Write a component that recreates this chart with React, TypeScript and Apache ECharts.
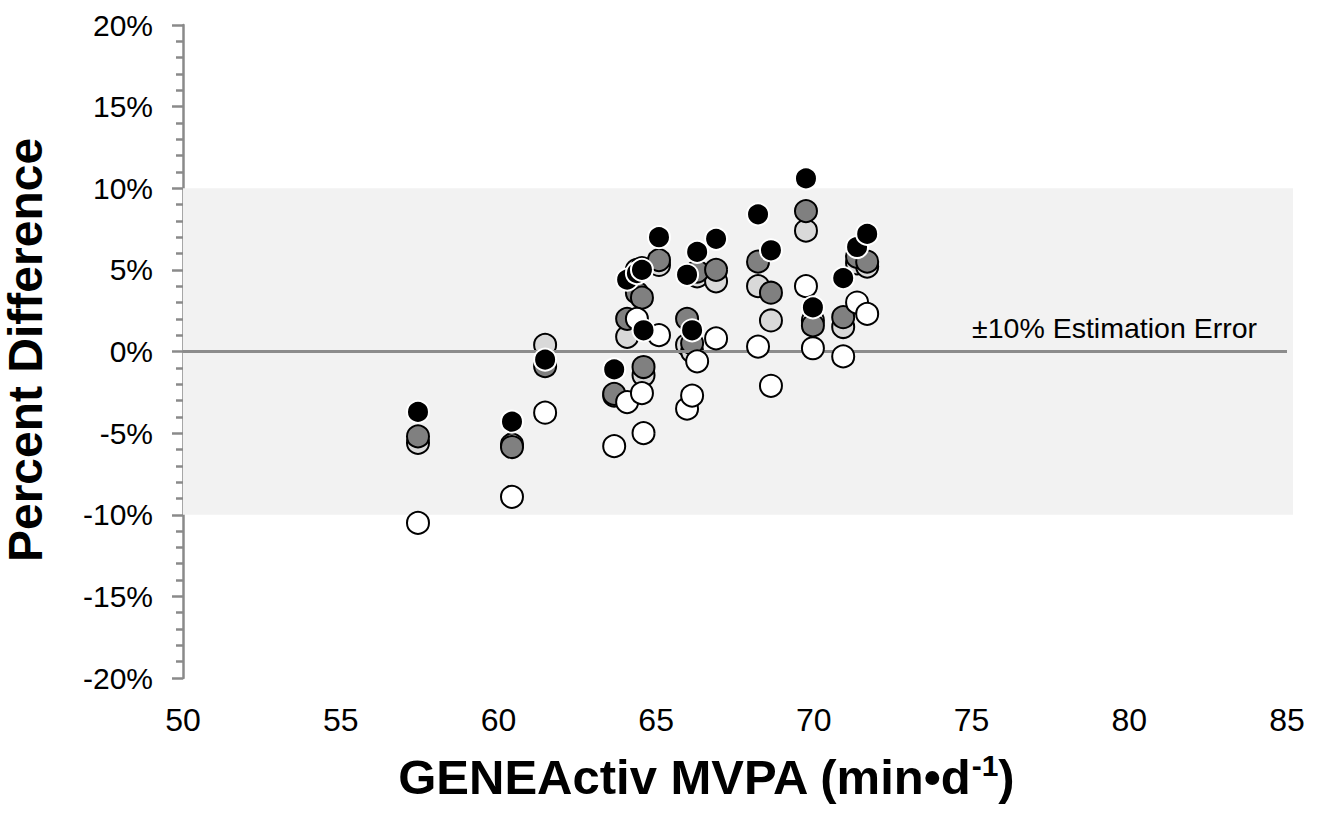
import React, { useEffect, useRef } from "react";
import * as echarts from "echarts";

// GENEActiv MVPA (min·d⁻¹) for each participant
const mvpa = [57.45, 60.43, 61.48, 63.67, 64.08, 64.39, 64.55, 64.6, 65.09, 65.98, 66.14, 66.3, 66.9, 68.23, 68.64, 69.75, 69.97, 70.93, 71.37, 71.69];
// Percent difference, four comparison series
const blackSeries = [-3.7, -4.3, -0.5, -1.1, 4.4, 4.8, 5.0, 1.3, 7.0, 4.7, 1.3, 6.1, 6.9, 8.4, 6.2, 10.6, 2.7, 4.5, 6.4, 7.2];
const darkGreySeries = [-5.2, -5.85, -0.9, -2.6, 2.0, 3.6, 3.3, -0.95, 5.6, 2.0, 0.5, 4.9, 5.0, 5.5, 3.6, 8.6, 1.6, 2.1, 5.8, 5.5];
const lightGreySeries = [-5.6, -5.7, 0.4, -2.7, 0.9, 5.0, 5.1, -1.45, 5.3, 0.4, 0.0, 4.6, 4.3, 4.0, 1.9, 7.4, 1.9, 1.5, 5.4, 5.2];
const whiteSeries = [-10.5, -8.9, -3.75, -5.8, -3.1, 2.0, -2.55, -5.0, 1.0, -3.5, -2.7, -0.6, 0.8, 0.3, -2.1, 4.0, 0.2, -0.3, 3.0, 2.3];

// axis settings
const xMin = 50;
const xLastTick = 85;
const xMax = 85.19;
const yMin = -20;
const yMax = 20;
const bandLow = -10;
const bandHigh = 10;

const FONT = "'Liberation Sans', Arial, sans-serif";

const pair = (ys: number[]) => mvpa.map((x, i) => [x, ys[i]]);

export default function App() {
  const ref = useRef<HTMLDivElement>(null);
  useEffect(() => {
    if (!ref.current) return;
    const chart = echarts.init(ref.current, null, { renderer: "svg" });
    const scatter = (name: string, ys: number[], fill: string, border: string, z: number) => ({
      name,
      type: "scatter",
      data: pair(ys),
      symbol: "circle",
      symbolSize: 22,
      z,
      itemStyle: { color: fill, borderColor: border, borderWidth: 2, opacity: 1 },
    });
    chart.setOption({
      animation: false,
      backgroundColor: "#fff",
      grid: { left: 183, right: 27, top: 25, bottom: 153, containLabel: false },
      xAxis: {
        type: "value",
        min: xMin,
        max: xMax,
        interval: 5,
        axisLine: { show: false },
        axisTick: { show: false },
        splitLine: { show: false },
        axisLabel: { fontSize: 32, color: "#000", fontFamily: FONT, margin: 26, showMaxLabel: false },
      },
      yAxis: {
        type: "value",
        min: yMin,
        max: yMax,
        interval: 5,
        axisLine: { show: true, lineStyle: { color: "#8a8a8a", width: 2.5 } },
        axisTick: { show: true, length: 11, lineStyle: { color: "#8a8a8a", width: 2.5 } },
        minorTick: { show: true, splitNumber: 5, length: 7, lineStyle: { color: "#8a8a8a", width: 2.5 } },
        splitLine: { show: false },
        axisLabel: { fontSize: 30, color: "#000", fontFamily: FONT, margin: 30, formatter: (v: number) => `${v}%` },
      },
      series: [
        {
          name: "band",
          type: "line",
          data: [],
          z: 1,
          markArea: {
            silent: true,
            itemStyle: { color: "#f2f2f2" },
            data: [[{ xAxis: xMin, yAxis: bandLow }, { xAxis: xMax, yAxis: bandHigh }]],
          },
          markLine: {
            silent: true,
            symbol: "none",
            label: { show: false },
            lineStyle: { color: "#8c8c8c", width: 3, type: "solid" },
            data: [[{ xAxis: xMin, yAxis: 0 }, { xAxis: xLastTick, yAxis: 0 }]],
          },
        },
        scatter("Light grey", lightGreySeries, "#d9d9d9", "#000", 3),
        scatter("Dark grey", darkGreySeries, "#808080", "#000", 4),
        scatter("White", whiteSeries, "#ffffff", "#000", 5),
        scatter("Black", blackSeries, "#000000", "#ffffff", 6),
      ],
      graphic: [
        {
          type: "text",
          x: 1257,
          y: 328,
          z: 10,
          style: { text: "±10% Estimation Error", fontSize: 28.5, fontFamily: FONT, fill: "#000", align: "right", verticalAlign: "middle" },
        },
        {
          type: "text",
          x: 25,
          y: 350,
          rotation: Math.PI / 2,
          z: 10,
          style: { text: "Percent Difference", fontSize: 48, fontWeight: "bold", fontFamily: FONT, fill: "#000", align: "center", verticalAlign: "middle" },
        },
        {
          type: "text",
          x: 706,
          y: 777,
          z: 10,
          style: {
            text: "{a|GENEActiv MVPA (min•d}{s|-1}{a|)}",
            align: "center",
            verticalAlign: "middle",
            rich: {
              a: { fontSize: 49, fontWeight: "bold", fontFamily: FONT, fill: "#000", color: "#000", lineHeight: 54 },
              s: { fontSize: 30, fontWeight: "bold", fontFamily: FONT, fill: "#000", color: "#000", lineHeight: 54, verticalAlign: "top", padding: [0, 0, 18, 0] },
            },
          },
        },
      ],
    });
    return () => chart.dispose();
  }, []);
  return <div ref={ref} style={{ position: "fixed", left: 0, top: 0, width: 1320, height: 831 }} />;
}
